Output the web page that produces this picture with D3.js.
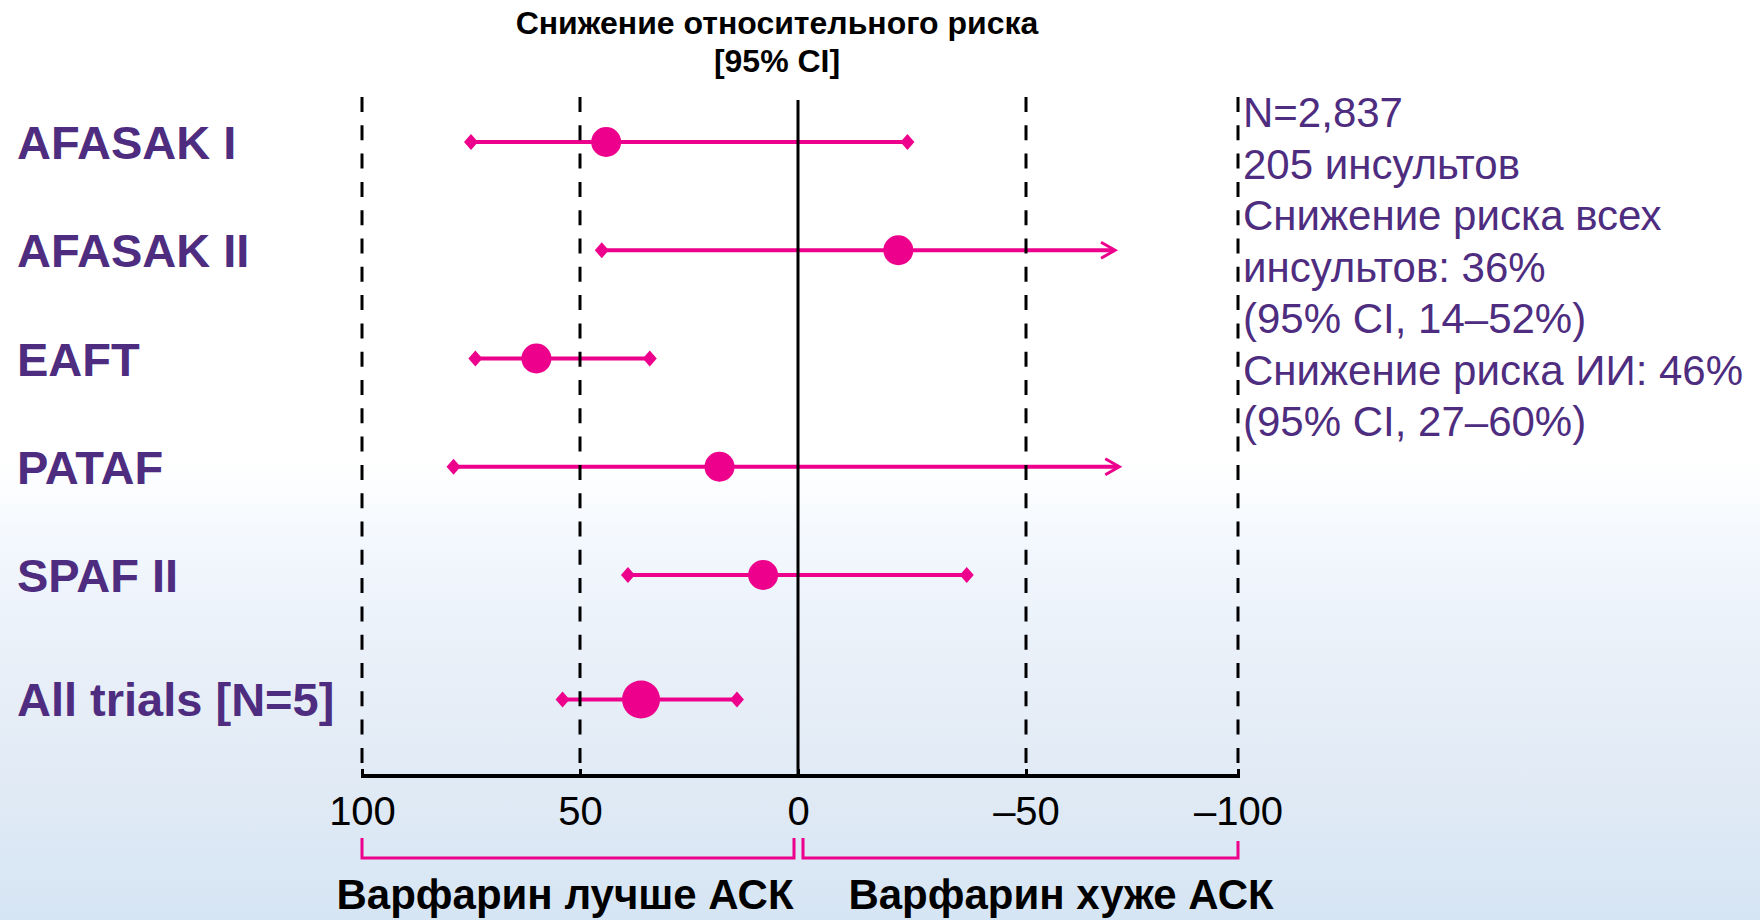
<!DOCTYPE html>
<html><head><meta charset="utf-8">
<script src="https://cdn.jsdelivr.net/npm/d3@7"></script>
<style>
html,body{margin:0;padding:0;width:1760px;height:920px;overflow:hidden;background:#fff;}
svg{display:block;}
</style></head>
<body>
<script>
// ---------------- data ----------------
const categories = ["AFASAK I", "AFASAK II", "EAFT", "PATAF", "SPAF II", "All trials [N=5]"];
const estimates  = [44, -22, 60, 18, 8, 36];          // relative risk reduction, %
const ciLower    = [75, 45, 74, 79, 39, 54];          // left (larger reduction) end of 95% CI
const ciUpper    = [-24, -71, 34, -72, -37, 14];      // right end of 95% CI
const ciUpperOpen = [false, true, false, true, false, false]; // CI continues beyond the drawn end (arrow)
const isSummary  = [false, false, false, false, false, true];
const tickValues = [100, 50, 0, -50, -100];
const tickLabels = ["100", "50", "0", "–50", "–100"];
const dashedRefs = [100, 50, -50, -100];
const solidRef   = 0;
const titleLines = ["Снижение относительного риска", "[95% CI]"];
const noteLines  = ["N=2,837", "205 инсультов", "Снижение риска всех", "инсультов: 36%",
                    "(95% CI, 14–52%)", "Снижение риска ИИ: 46%", "(95% CI, 27–60%)"];
const footerLabels = ["Варфарин лучше АСК", "Варфарин хуже АСК"];

// ---------------- layout ----------------
const W = 1760, H = 920;
const FONT = "'Liberation Sans', Arial, Helvetica, sans-serif";
const PURPLE = "#4e2d80", MAGENTA = "#ec008c";
const axisY = 776, plotTop = 97;
const summaryIndex = 5.15;

// the original axis is slightly uneven between its ticks
const x = d3.scaleLinear().domain(tickValues).range([362, 580, 798, 1026, 1238]);
const yIdx = d3.scaleLinear().domain([0, 4]).range([142, 575]);
const rowY = i => yIdx(isSummary[i] ? summaryIndex : i);

const svg = d3.select("body").append("svg").attr("width", W).attr("height", H);

// background
const defs = svg.append("defs");
const grad = defs.append("linearGradient").attr("id", "bg").attr("x1", 0).attr("y1", 0).attr("x2", 0).attr("y2", 1);
[[0, "#ffffff"], [0.5, "#ffffff"], [0.6, "#f2f7fd"], [0.66, "#edf3fb"], [0.75, "#e7eef7"],
 [0.86, "#e0eaf5"], [1, "#d6e5f4"]].forEach(([o, c]) => grad.append("stop").attr("offset", o).attr("stop-color", c));
svg.append("rect").attr("width", W).attr("height", H).attr("fill", "url(#bg)");

const gLines = svg.append("g");
const gRef = svg.append("g");
const gMarks = svg.append("g");

// title
svg.append("g").selectAll("text").data(titleLines).join("text")
  .attr("x", 777).attr("y", (d, i) => 34 + i * 38)
  .attr("text-anchor", "middle").attr("font-family", FONT).attr("font-weight", "bold")
  .attr("font-size", 32).attr("fill", "#000").text(d => d);

// row labels
svg.append("g").selectAll("text").data(categories).join("text")
  .attr("x", 17).attr("y", (d, i) => rowY(i) + 17)
  .attr("font-family", FONT).attr("font-weight", "bold").attr("font-size", 47)
  .attr("fill", PURPLE).text(d => d);

const rows = categories.map((c, i) => ({i, c, est: estimates[i], lo: ciLower[i], hi: ciUpper[i], open: ciUpperOpen[i], sum: isSummary[i]}));

// CI lines
gLines.selectAll("line").data(rows).join("line")
  .attr("x1", d => x(d.lo)).attr("x2", d => x(d.hi) - (d.open ? 1 : 0))
  .attr("y1", d => rowY(d.i)).attr("y2", d => rowY(d.i))
  .attr("stroke", MAGENTA).attr("stroke-width", 4);

// reference lines (above CI lines, below markers)
gRef.selectAll("line.dash").data(dashedRefs).join("line").attr("class", "dash")
  .attr("x1", d => x(d)).attr("x2", d => x(d)).attr("y1", plotTop).attr("y2", axisY)
  .attr("stroke", "#000").attr("stroke-width", 3).attr("stroke-dasharray", "15,13.3");
gRef.append("line").attr("x1", x(solidRef)).attr("x2", x(solidRef)).attr("y1", 100).attr("y2", axisY)
  .attr("stroke", "#000").attr("stroke-width", 3);

// diamond end caps and arrows
const diamond = (cx, cy) => `M${cx - 7},${cy}L${cx},${cy - 8}L${cx + 7},${cy}L${cx},${cy + 8}Z`;
gMarks.selectAll("path.capL").data(rows).join("path").attr("class", "capL")
  .attr("d", d => diamond(x(d.lo), rowY(d.i))).attr("fill", MAGENTA);
gMarks.selectAll("path.capR").data(rows.filter(d => !d.open)).join("path").attr("class", "capR")
  .attr("d", d => diamond(x(d.hi), rowY(d.i))).attr("fill", MAGENTA);
gMarks.selectAll("path.arrow").data(rows.filter(d => d.open)).join("path").attr("class", "arrow")
  .attr("d", d => { const tx = x(d.hi), ty = rowY(d.i); return `M${tx - 14},${ty - 8}L${tx},${ty}L${tx - 14},${ty + 8}`; })
  .attr("fill", "none").attr("stroke", MAGENTA).attr("stroke-width", 3);

// point estimates
gMarks.selectAll("circle").data(rows).join("circle")
  .attr("cx", d => x(d.est)).attr("cy", d => rowY(d.i)).attr("r", d => d.sum ? 19 : 15)
  .attr("fill", MAGENTA);

// axis
const axis = d3.axisBottom(x).tickValues(tickValues)
  .tickFormat((d, i) => tickLabels[i]).tickSizeInner(-7).tickSizeOuter(0).tickPadding(21);
const gAxis = svg.append("g").attr("transform", `translate(0,${axisY})`).call(axis);
gAxis.select(".domain").attr("stroke", "#000").attr("stroke-width", 4)
  .attr("d", `M${x(100) - 1},0H${x(-100) + 2}`);
gAxis.selectAll(".tick line").attr("stroke", "#000").attr("stroke-width", 3);
gAxis.selectAll(".tick text").attr("font-family", FONT).attr("font-size", 40).attr("fill", "#000");

// brackets
const bTop = 838, bBot = 858;
svg.append("path").attr("d", `M${x(100)},${bTop}V${bBot}H${x(0) - 4}V${bTop}`)
  .attr("fill", "none").attr("stroke", MAGENTA).attr("stroke-width", 3);
svg.append("path").attr("d", `M${x(0) + 5},${bTop}V${bBot}H${x(-100)}V${bTop + 3}`)
  .attr("fill", "none").attr("stroke", MAGENTA).attr("stroke-width", 3);

// footer labels
svg.append("g").selectAll("text").data(footerLabels).join("text")
  .attr("x", (d, i) => i === 0 ? x(0) - 233 : x(0) + 263).attr("y", 909)
  .attr("text-anchor", "middle").attr("font-family", FONT).attr("font-weight", "bold")
  .attr("font-size", 42).attr("fill", "#000").text(d => d);

// right notes
svg.append("g").selectAll("text").data(noteLines).join("text")
  .attr("x", 1243).attr("y", (d, i) => 127 + i * 51.5)
  .attr("font-family", FONT).attr("font-size", 42).attr("fill", PURPLE).text(d => d);
</script>
</body></html>
